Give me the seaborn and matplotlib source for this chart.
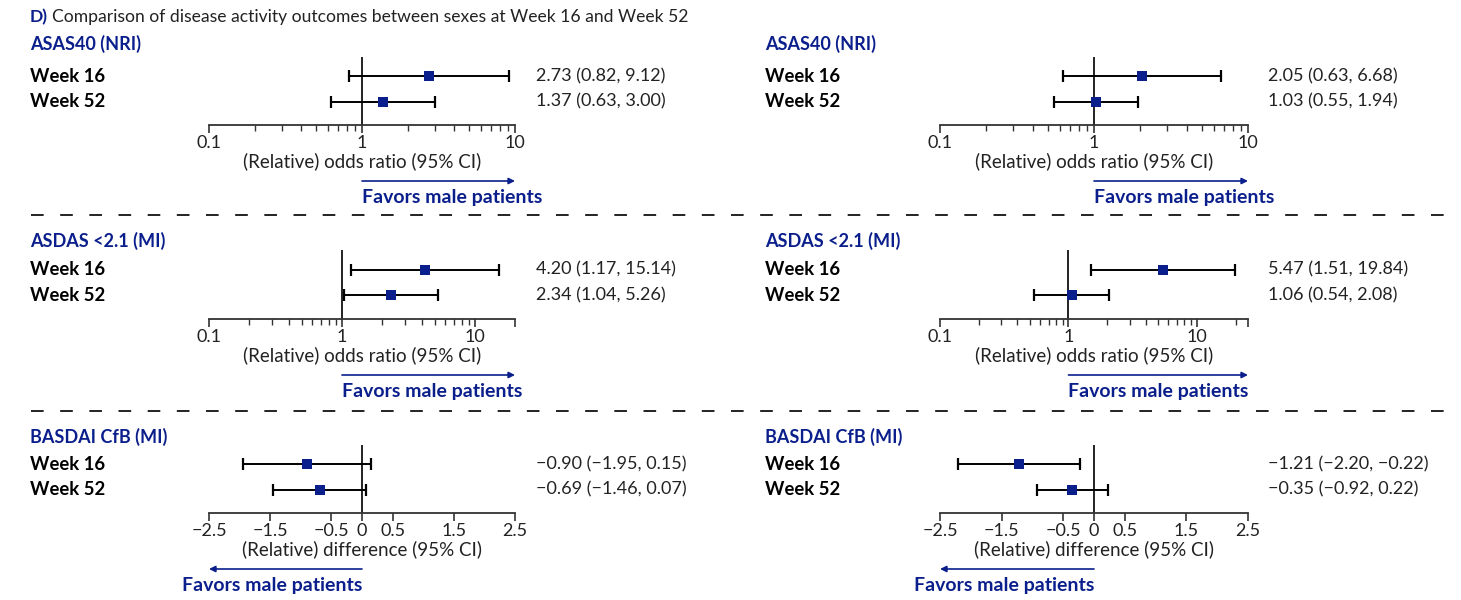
import numpy as np
import pandas as pd
import seaborn as sns
import matplotlib.pyplot as plt
from matplotlib.ticker import FixedLocator, NullFormatter, LogLocator

# data
weeks = ['Week 16', 'Week 52']
outcomes = ['ASAS40 (NRI)', 'ASDAS <2.1 (MI)', 'BASDAI CfB (MI)']

left_est = [[2.73, 1.37], [4.20, 2.34], [-0.90, -0.69]]
left_lo = [[0.82, 0.63], [1.17, 1.04], [-1.95, -1.46]]
left_hi = [[9.12, 3.00], [15.14, 5.26], [0.15, 0.07]]

right_est = [[2.05, 1.03], [5.47, 1.06], [-1.21, -0.35]]
right_lo = [[0.63, 0.55], [1.51, 0.54], [-2.20, -0.92]]
right_hi = [[6.68, 1.94], [19.84, 2.08], [-0.22, 0.22]]

log_ticks = [0.1, 1, 10]
diff_ticks = [-2.5, -1.5, -0.5, 0, 0.5, 1.5, 2.5]
or_label = '(Relative) odds ratio (95% CI)'
diff_label = '(Relative) difference (95% CI)'
favors = 'Favors male patients'

NAVY = '#0b1f8c'
W, H = 1461, 600

sns.set_theme(style='white')
plt.rcParams['font.family'] = ['Lato', 'DejaVu Sans']
plt.rcParams['axes.unicode_minus'] = True

fig = plt.figure(figsize=(W / 100, H / 100), dpi=100)


def fx(px):
    return px / W


def fy(py):
    return 1 - py / H


def fmt(v):
    return f'{v:.2f}'.replace('-', '\u2212')


fig.text(fx(30), fy(17), 'D)', color=NAVY, fontsize=12.6, fontweight='bold', va='center')
fig.text(fx(52), fy(17), 'Comparison of disease activity outcomes between sexes at Week 16 and Week 52',
         color='#222222', fontsize=12.6, va='center')

rows = [(57, 125, 44), (250, 319, 241), (445, 513, 437)]
cols = [(209, 515, 30, 536), (940, 1248, 765, 1268)]
xlims = [[(0.1, 10), (0.1, 20), (-2.5, 2.5)],
         [(0.1, 10), (0.1, 25), (-2.5, 2.5)]]
ypos = [1, 0]

for c, (est_all, lo_all, hi_all) in enumerate([(left_est, left_lo, left_hi),
                                               (right_est, right_lo, right_hi)]):
    x0, x1, xlab, xval = cols[c]
    for r, (top, bot, ytitle) in enumerate(rows):
        ax = fig.add_axes([fx(x0), fy(bot), (x1 - x0) / W, (bot - top) / H])
        est = np.array(est_all[r])
        lo = np.array(lo_all[r])
        hi = np.array(hi_all[r])
        is_log = r < 2
        ref = 1 if is_log else 0

        df = pd.DataFrame({'week': weeks, 'est': est, 'y': ypos})
        ax.errorbar(est, ypos, xerr=[est - lo, hi - est], fmt='none', ecolor='black',
                    elinewidth=1.4, capsize=4.5, capthick=1.6, zorder=2)
        sns.scatterplot(data=df, x='est', y='y', marker='s', s=62, color=NAVY,
                        edgecolor=NAVY, linewidth=0, ax=ax, zorder=3, legend=False)
        ax.axvline(ref, color='#111111', lw=1.3, zorder=1)

        lim = xlims[c][r]
        if is_log:
            ax.set_xscale('log')
            ticks = list(log_ticks)
            labels = ['0.1', '1', '10']
            if lim[1] not in ticks:
                ticks.append(lim[1])
                labels.append('')
            ax.xaxis.set_major_locator(FixedLocator(ticks))
            ax.set_xticklabels(labels)
            ax.xaxis.set_minor_locator(LogLocator(base=10, subs=np.arange(2, 10)))
            ax.xaxis.set_minor_formatter(NullFormatter())
            label = or_label
        else:
            ax.set_xticks(diff_ticks)
            ax.set_xticklabels([fmt(t).rstrip('0').rstrip('.') if t != 0 else '0' for t in diff_ticks])
            label = diff_label
        ax.set_xlim(*lim)
        ax.set_ylim(-0.92, 1.76)
        ax.set_yticks([])
        ax.set_ylabel('')
        ax.set_xlabel(label, fontsize=13.5, color='#222222', labelpad=1)
        for s in ['top', 'left', 'right']:
            ax.spines[s].set_visible(False)
        ax.spines['bottom'].set_color('#333333')
        ax.spines['bottom'].set_linewidth(1.3)
        ax.tick_params(axis='x', which='major', direction='out', length=6, width=1.2,
                       color='#333333', labelsize=13, labelcolor='#222222', pad=1, bottom=True)
        ax.tick_params(axis='x', which='minor', direction='out', length=4, width=1.0,
                       color='#333333', bottom=True)
        ax.patch.set_alpha(0)

        # labels to the left / values to the right
        fig.text(fx(xlab), fy(ytitle), outcomes[r], color=NAVY, fontsize=13,
                 fontweight='bold', va='center')
        for i in range(2):
            yy = ax.transData.transform((1, ypos[i]))[1]
            yfig = fig.transFigure.inverted().transform((0, yy))[1]
            fig.text(fx(xlab), yfig, weeks[i], fontsize=13.3, fontweight='bold',
                     color='black', va='center')
            fig.text(fx(xval), yfig, f'{fmt(est[i])} ({fmt(lo[i])}, {fmt(hi[i])})',
                     fontsize=13, color='#222222', va='center')

        # favors arrow
        ya = fy(bot + 56)
        if est.mean() > ref:
            end = 1.0
            ha = 'left'
        else:
            end = 0.0
            ha = 'right'
        ax.annotate('', xy=(end, ya), xycoords=('axes fraction', 'figure fraction'),
                    xytext=(ref, ya), textcoords=('data', 'figure fraction'),
                    arrowprops=dict(arrowstyle='-|>', color=NAVY, lw=1.2,
                                    mutation_scale=9, shrinkA=0, shrinkB=0),
                    annotation_clip=False)
        ax.annotate(favors, xy=(ref, fy(bot + 72)), xycoords=('data', 'figure fraction'),
                    ha=ha, va='center', color=NAVY, fontsize=14, fontweight='bold',
                    annotation_clip=False)

# dashed separators
for yy in [215, 411]:
    fig.add_artist(plt.Line2D([fx(31), fx(1448)], [fy(yy), fy(yy)], color='#222222',
                              lw=1.4, linestyle=(0, (6.5, 8.5))))

fig.savefig('out.png', dpi=100)
